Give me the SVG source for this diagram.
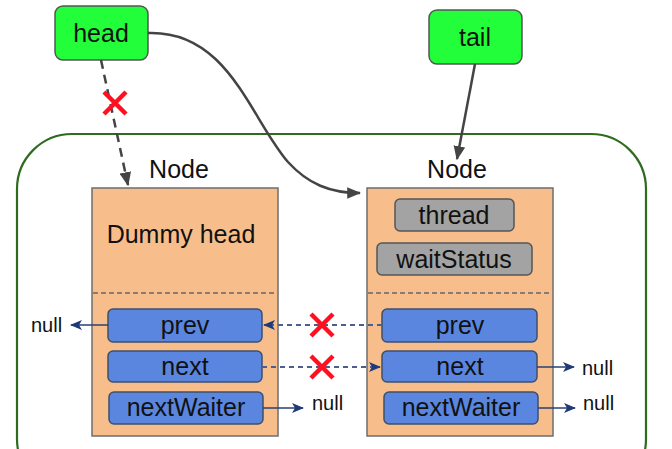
<svg xmlns="http://www.w3.org/2000/svg" width="672" height="449" viewBox="0 0 672 449">
<style>
text{font-family:"Liberation Sans",Arial,sans-serif;fill:#111;}
.ptr{fill:#22ff3a;stroke:#555;stroke-width:1.5;}
.node{fill:#f7be8c;stroke:#6e6e6e;stroke-width:1.5;}
.fld{fill:#5a86e0;stroke:#3f4f6a;stroke-width:1.5;}
.gfld{fill:#a3a3a3;stroke:#555;stroke-width:1.5;}
.sep{stroke:#666;stroke-width:1.5;stroke-dasharray:5 3;fill:none;}
.t25{font-size:25px;text-anchor:middle;}
.nul{font-size:20px;}
.blk{stroke:#444;stroke-width:2.5;fill:none;}
.blu{stroke:#2b3f73;stroke-width:1.6;fill:none;}
.bld{stroke:#4a5f90;stroke-width:2;fill:none;stroke-dasharray:5 4;}
.x{stroke:#ff1020;stroke-width:4.5;stroke-linecap:butt;}
</style>
<defs>
<marker id="ak" viewBox="0 0 12 10" refX="11" refY="5" markerWidth="14" markerHeight="12" markerUnits="userSpaceOnUse" orient="auto"><path d="M0,0 L12,5 L0,10 Z" fill="#444"/></marker>
<marker id="au" viewBox="0 0 12 10" refX="11" refY="5" markerWidth="13" markerHeight="10" markerUnits="userSpaceOnUse" orient="auto"><path d="M0,0 L12,5 L0,10 L3,5 Z" fill="#1f3a78"/></marker>
</defs>
<g id="container"><rect x="17" y="134" width="629" height="360" rx="55" ry="55" fill="none" stroke="#2e6b1f" stroke-width="2.2"/></g>
<g id="head"><rect class="ptr" x="55" y="6" width="93" height="54" rx="8"/><text class="t25" x="101" y="42">head</text></g>
<g id="tail"><rect class="ptr" x="429" y="10" width="93" height="54" rx="8"/><text class="t25" x="475" y="46">tail</text></g>
<g id="node1">
<text class="t25" x="179" y="178">Node</text>
<rect class="node" x="92" y="188" width="186" height="248"/>
<text class="t25" x="181" y="243">Dummy head</text>
<line class="sep" x1="93" y1="293" x2="277" y2="293"/>
<rect class="fld" x="108" y="309" width="154" height="33" rx="5"/><text class="t25" x="185" y="334">prev</text>
<rect class="fld" x="108" y="351" width="154" height="31" rx="5"/><text class="t25" x="185" y="375">next</text>
<rect class="fld" x="109" y="392" width="154" height="32" rx="5"/><text class="t25" x="186" y="416">nextWaiter</text>
</g>
<g id="node2">
<text class="t25" x="457" y="178">Node</text>
<rect class="node" x="367" y="188" width="186" height="248"/>
<rect class="gfld" x="395" y="199" width="119" height="32" rx="5"/><text class="t25" x="454" y="224">thread</text>
<rect class="gfld" x="377" y="243" width="155" height="32" rx="5"/><text class="t25" x="454" y="268">waitStatus</text>
<line class="sep" x1="368" y1="293" x2="552" y2="293"/>
<rect class="fld" x="382" y="309" width="155" height="33" rx="5"/><text class="t25" x="460" y="334">prev</text>
<rect class="fld" x="382" y="351" width="155" height="31" rx="5"/><text class="t25" x="460" y="375">next</text>
<rect class="fld" x="384" y="392" width="154" height="32" rx="5"/><text class="t25" x="461" y="416">nextWaiter</text>
</g>
<g id="nulls">
<text class="nul" x="31" y="332">null</text>
<text class="nul" x="312" y="410">null</text>
<text class="nul" x="582" y="375">null</text>
<text class="nul" x="583" y="410">null</text>
</g>
<g id="connectors">
<path class="blk" d="M148,33 C228,30 250,118 288,162 C308,184 330,193 360,193" marker-end="url(#ak)"/>
<path class="blk" d="M475,64 L457,159" marker-end="url(#ak)"/>
<path class="blk" d="M101,60 L128,185" stroke-dasharray="9 6" marker-end="url(#ak)"/>
<path class="blu" d="M108,325 L71,325" marker-end="url(#au)"/>
<path class="blu" d="M263,408 L303,408" marker-end="url(#au)"/>
<path class="blu" d="M537,367 L574,367" marker-end="url(#au)"/>
<path class="blu" d="M538,408 L575,408" marker-end="url(#au)"/>
<path class="bld" d="M382,325 L264,325" marker-end="url(#au)"/>
<path class="bld" d="M262,367 L380,367" marker-end="url(#au)"/>
</g>
<g id="crosses">
<path class="x" d="M104,92 L126,114 M126,92 L104,114"/>
<path class="x" d="M311,314 L333,336 M333,314 L311,336"/>
<path class="x" d="M311,356 L333,378 M333,356 L311,378"/>
</g>
</svg>
